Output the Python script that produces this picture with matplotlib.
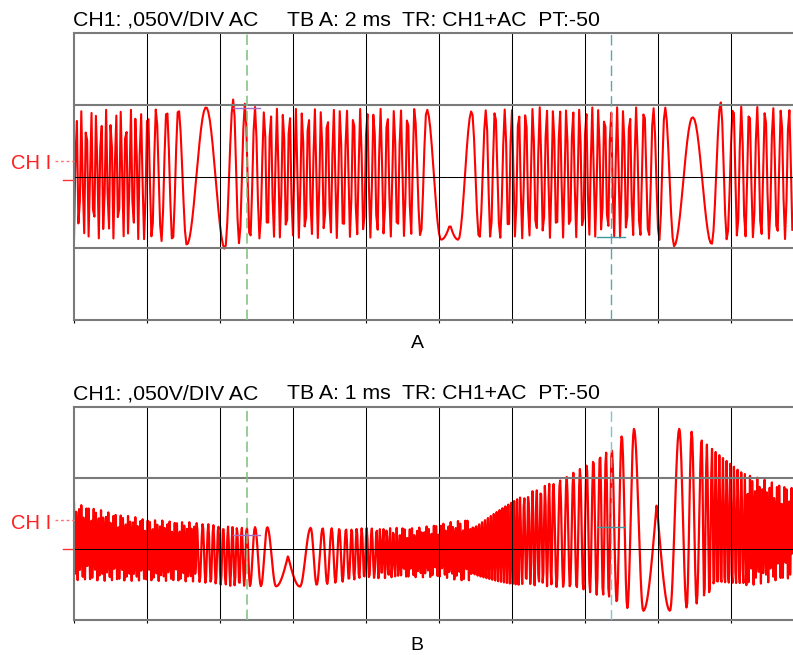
import numpy as np
import matplotlib
matplotlib.use("Agg")
import matplotlib.pyplot as plt

plt.rcParams['font.family'] = ['Liberation Sans', 'DejaVu Sans']
plt.rcParams['lines.scale_dashes'] = False

W, H = 793, 655

# ---------------- data (x in divisions, y in divisions) ----------------
A_title = ["CH1: ,050V/DIV AC", "TB A: 2 ms", "TR: CH1+AC  PT:-50"]
B_title = ["CH1: ,050V/DIV AC", "TB A: 1 ms", "TR: CH1+AC  PT:-50"]
panel_labels = ["A", "B"]
channel_label = "CH I"

# panel A: phase anchors (cycle count at extrema / segment ends)
A_anchor_x = [0.000, 0.9137, 1.0096, 1.1233, 1.2699, 1.4288, 1.5438, 1.8082, 2.0685,
              2.1822, 2.3425, 2.4795, 2.6068, 3.6438, 4.6616, 4.8315, 5.0274, 5.1507,
              5.2644, 5.4479, 5.5521, 5.6438, 5.7671, 5.9041, 5.9959, 6.4753, 7.0137,
              7.5247, 7.6986, 7.8082, 7.9356, 8.0959, 8.2192, 8.4753, 8.7356, 8.8589,
              8.9452, 9.0315, 9.8493]
A_anchor_phase = [-0.5, 13, 14, 15, 16, 17, 17.5, 18, 18.5,
                  19, 20, 21, 22, 34, 45, 46, 46.5, 46.613,
                  46.5, 47, 47.5, 48, 49, 50, 51, 56, 62,
                  68, 70, 71, 72, 73, 73.5, 74, 74.5, 75,
                  75.5, 76, 83.5]
A_env_x = [0, 0.90, 1.55, 1.81, 2.07, 2.18, 2.55, 4.74, 5.03, 5.26, 5.44, 5.84,
           6.11, 7.21, 8.10, 8.22, 8.48, 8.74, 8.85, 9.12, 9.85]
A_top = [0.92, 0.95, 0.96, 0.97, 1.02, 1.08, 0.95, 0.95, 0.93, 0.93, 0.92, 0.95,
         0.97, 0.97, 0.97, 0.90, 0.83, 0.95, 1.04, 0.98, 0.97]
A_bot = [-0.87, -0.87, -0.95, -0.98, -1.01, -0.95, -0.87, -0.84, -0.88, -0.88, -0.87, -0.87,
         -0.86, -0.84, -0.90, -0.97, -0.96, -0.94, -0.90, -0.87, -0.87]

# panel B
B_anchor_x = [0.0, 1.6808, 1.7630, 1.8397, 1.9082, 1.9767, 2.0452, 2.1096, 2.1712,
              2.2329, 2.2973, 2.3658, 2.4110, 2.4795, 2.5616, 2.6479, 2.7671, 2.9315,
              3.0959, 3.2425, 3.3247, 3.4068, 3.5301, 3.6342, 3.7260, 3.8041, 3.8726,
              4.1466, 4.4658, 5.4247, 6.1096, 6.5658, 7.2055, 7.2877, 7.3658, 7.4342,
              7.5027, 7.5795, 7.6712, 7.7986, 7.9822, 8.1644, 8.2918, 8.3932, 8.4616,
              8.5301, 8.5986, 8.7397, 9.1918, 9.8493]
B_anchor_phase = [0, 50, 51, 52, 53, 54, 55, 56, 57,
                  58, 59, 60, 60.5, 61, 61.5, 62, 62.5, 62.755,
                  62.5, 63, 63.5, 64, 65, 66, 67, 68, 69,
                  73, 80, 109, 126, 134, 141, 142, 143, 143.5,
                  144, 144.5, 145, 145.5, 145.778, 145.5, 146, 146.5, 147,
                  147.5, 148, 150, 159, 178.6]
B_env_x = [0, 0.493, 1.041, 1.658, 2.137, 3.096, 3.507, 3.918, 4.740, 5.055, 5.521,
           5.973, 6.425, 6.726, 7.000, 7.205, 7.370, 7.507, 7.671, 7.973, 8.288,
           8.466, 8.603, 8.849, 9.123, 9.397, 9.849]
B_top = [0.65, 0.51, 0.41, 0.37, 0.31, 0.30, 0.29, 0.29, 0.30, 0.36, 0.44,
         0.65, 0.89, 1.00, 1.17, 1.34, 1.40, 1.60, 1.69, 1.69, 1.69,
         1.65, 1.53, 1.31, 1.10, 0.99, 0.86]
B_bot = [-0.44, -0.45, -0.45, -0.46, -0.52, -0.53, -0.49, -0.42, -0.40, -0.40, -0.49,
         -0.50, -0.52, -0.55, -0.59, -0.66, -0.72, -0.80, -0.87, -0.87, -0.87,
         -0.80, -0.73, -0.63, -0.56, -0.49, -0.42]

cursor1_x = 2.37
cursor2_x = 7.36
A_markers = [(2.18, 2.55, 0.96), (7.16, 7.55, -0.835)]
B_markers = [(2.18, 2.55, 0.197), (7.16, 7.55, 0.314)]
A_chlabel_y = 0.223
A_zero_y = -0.042
B_chlabel_y = 0.40
B_zero_y = 0.0

XMAX = (W - 74) / 73.0


def trace(ax_x, anc_x, anc_ph, env_x, top, bot):
    ph = np.interp(ax_x, anc_x, anc_ph)
    t = np.interp(ax_x, env_x, top)
    b = np.interp(ax_x, env_x, bot)
    return (t + b) / 2 + (t - b) / 2 * np.cos(2 * np.pi * ph)


GRAY = '#7a7a7a'


def frame(ax, ymin, ymax):
    ax.set_xlim(0, XMAX)
    ax.set_ylim(ymin, ymax)
    for s in ['top', 'bottom', 'left']:
        ax.spines[s].set_color(GRAY)
        ax.spines[s].set_linewidth(1.5)
        ax.spines[s].set_zorder(4)
    ax.spines['right'].set_visible(False)
    ax.set_xticks(np.arange(0, 10))
    ax.set_yticks([])
    ax.tick_params(axis='x', direction='out', length=2.5, width=0.8, color='black',
                   labelbottom=False)
    for x in range(1, 10):
        ax.axvline(x, color='black', lw=0.75, zorder=3)
    for y in range(ymin + 1, ymax):
        if y == 0:
            ax.axhline(y, color='black', lw=0.75, zorder=3)
        else:
            ax.axhline(y, color=GRAY, lw=1.5, zorder=3)


def cursors(ax, ymin, ymax, c2color):
    ax.plot([cursor1_x, cursor1_x], [ymin, ymax], color='#7cbf7c', lw=1.1,
            dashes=(7.5, 3.5), zorder=5)
    ax.plot([cursor2_x, cursor2_x], [ymin, ymax], color=c2color, lw=1.0,
            dashes=(7.5, 3.5), zorder=5)


def markers(ax, marks):
    (x0, x1, y) = marks[0]
    ax.plot([x0, x1], [y, y], color='#a070c8', lw=1.0, zorder=6)
    (x0, x1, y) = marks[1]
    ax.plot([x0, x1], [y, y], color='#3a9aa0', lw=1.0, zorder=6)


def chlabel(ax, ylab, yzero, base_px):
    ax.plot([-0.26, -0.005], [ylab, ylab], color='#ff7070', lw=1.0, dashes=(2, 2),
            clip_on=False, zorder=5)
    ax.plot([-0.155, -0.03], [yzero, yzero], color='#ff3030', lw=1.0,
            clip_on=False, zorder=5)
    fig.text(11 / W, 1 - base_px / H, channel_label, color='#ff2020', fontsize=14.5,
             ha='left', va='baseline')


fig = plt.figure(figsize=(W / 100, H / 100), dpi=100)
fig.patch.set_facecolor('white')

axA = fig.add_axes([74 / W, 1 - 320 / H, (W - 74) / W, (320 - 33.5) / H])
axB = fig.add_axes([74 / W, 1 - 620 / H, (W - 74) / W, (620 - 406.7) / H])

frame(axA, -2, 2)
frame(axB, -1, 2)

xa = np.arange(0, XMAX + 1e-9, 0.02)
ya = trace(xa, A_anchor_x, A_anchor_phase, A_env_x, A_top, A_bot)
axA.plot(xa, ya, color='#ff0000', lw=1.5, zorder=2)

xb = np.arange(0, XMAX + 1e-9, 0.01)
yb = trace(xb, B_anchor_x, B_anchor_phase, B_env_x, B_top, B_bot)
axB.plot(xb, yb, color='#ff0000', lw=1.6, zorder=2)

cursors(axA, -2, 2, '#5aa8a8')
cursors(axB, -1, 2, '#7fc4cc')
markers(axA, A_markers)
markers(axB, B_markers)
chlabel(axA, A_chlabel_y, A_zero_y, 169.3)
chlabel(axB, B_chlabel_y, B_zero_y, 529.3)

title_x = [73, 287, 402]
for txt, xp in zip(A_title, title_x):
    fig.text(xp / W, 1 - 26 / H, txt, fontsize=15.3, ha='left', va='baseline', color='black')
for txt, xp in zip(B_title, title_x):
    fig.text(xp / W, 1 - 399.3 / H, txt, fontsize=15.3, ha='left', va='baseline', color='black')

fig.text(417 / W, 1 - 348.3 / H, panel_labels[0], fontsize=14, ha='center', va='baseline')
fig.text(417 / W, 0.5 / H, panel_labels[1], fontsize=14, ha='center', va='bottom')

fig.savefig('out.png', dpi=100, facecolor='white')
